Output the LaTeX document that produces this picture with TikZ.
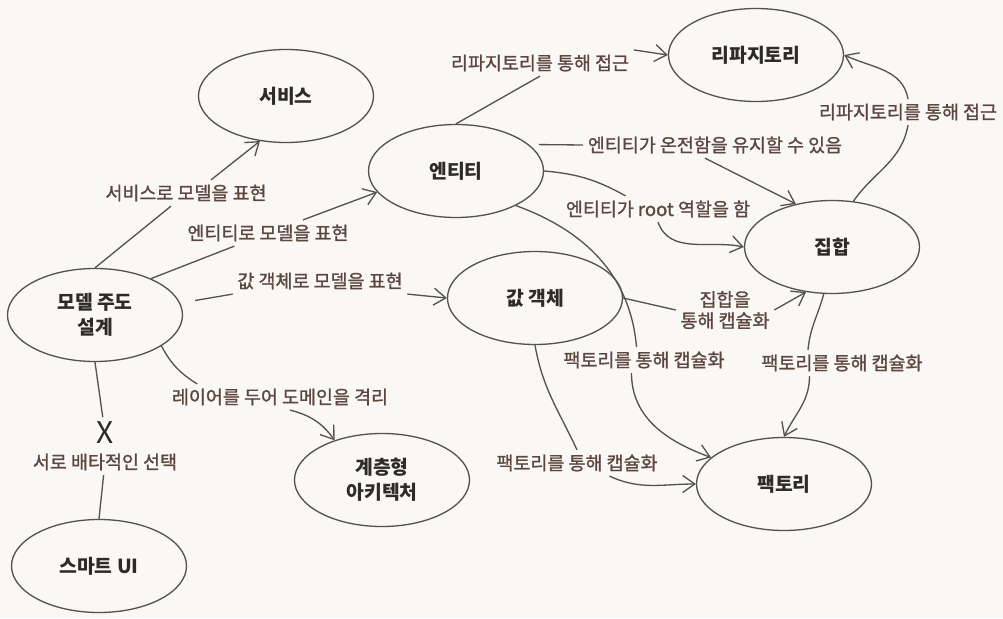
\documentclass[tikz,border=0pt]{standalone}
\usepackage{fontspec}
\setmainfont{Noto Sans CJK KR}
\newfontfamily\relfont[FakeBold=1.2]{Noto Sans CJK KR}
\usepackage{xcolor}
\usetikzlibrary{shapes.geometric, arrows.meta}

\definecolor{paper}{HTML}{FAF8F4}
\definecolor{ink}{HTML}{2E2A28}
\definecolor{rust}{HTML}{5C4640}
\definecolor{wire}{HTML}{5A504A}

\begin{document}
\begin{tikzpicture}[x=0.2mm, y=0.2mm, >={Straight Barb[length=2.4mm,width=3.4mm]},
    concept/.style={ellipse, draw=wire, line width=0.75pt, minimum width=35mm,
        minimum height=18.6mm, inner sep=0pt, align=center, text=ink,
        font=\fontsize{11}{14}\selectfont\bfseries},
    rel/.style={text=rust, inner sep=2.5pt, align=center,
        font=\relfont\fontsize{10.5}{12}\selectfont},
    link/.style={draw=wire, line width=0.75pt}]

    % =================================================================
    % 0. 바탕
    % =================================================================
    \useasboundingbox (0,0) rectangle (1003,618);
    \fill[paper] (0,0) rectangle (1003,618);

    % =================================================================
    % 1. 개념 (타원)
    % =================================================================
    \node[concept] (svc)   at (286,522) {서비스};
    \node[concept] (ent)   at (456,447) {엔티티};
    \node[concept] (repo)  at (756,563) {리파지토리};
    \node[concept] (agg)   at (832,371) {집합};
    \node[concept] (val)   at (535,320) {값 객체};
    \node[concept] (fac)   at (784,134) {팩토리};
    \node[concept] (mdd)   at (95,303)  {모델 주도\\설계};
    \node[concept] (lay)   at (382,138) {계층형\\아키텍처};
    \node[concept] (smart) at (99,52)   {스마트 UI};

    % =================================================================
    % 2. 관계 이름
    % =================================================================
    \node[rel] (lsvc)   at (186,425) {서비스로 모델을 표현};
    \node[rel] (lent)   at (268,385) {엔티티로 모델을 표현};
    \node[rel] (lval)   at (320,337) {값 객체로 모델을 표현};
    \node[rel] (llay)   at (280,221) {레이어를 두어 도메인을 격리};
    \node[rel, text=ink, font=\fontsize{17}{17}\selectfont] (xmark) at (105,185) {X};
    \node[rel] (lexcl)  at (105,156) {서로 배타적인 선택};
    \node[rel] (lrepoa) at (540,555) {리파지토리를 통해 접근};
    \node[rel] (lrepob) at (908,506) {리파지토리를 통해 접근};
    \node[rel] (lwhole) at (715,473) {엔티티가 온전함을 유지할 수 있음};
    \node[rel] (lroot)  at (658,409) {엔티티가 root 역할을 함};
    \node[rel] (lagg)   at (725,308) {집합을\\통해 캡슐화};
    \node[rel] (lfaca)  at (644,258) {팩토리를 통해 캡슐화};
    \node[rel] (lfacb)  at (842,255) {팩토리를 통해 캡슐화};
    \node[rel] (lfacc)  at (577,155) {팩토리를 통해 캡슐화};

    % =================================================================
    % 3. 모델 주도 설계에서 나가는 선
    % =================================================================
    \draw[link] (mdd.north) -- ([xshift=-3mm]lsvc.south);
    \draw[link, ->] ([xshift=5mm]lsvc.north) -- (svc.240);
    \draw[link] (mdd.33) -- (lent);
    \draw[link, ->] (lent) -- (ent.195);
    \draw[link, shorten <=3mm] (mdd.8) -- (lval.south west);
    \draw[link, ->] (lval.south east) -- (val.west);
    \draw[link] (mdd.-25) to[bend right=15] ([xshift=6mm]llay.north west);
    \draw[link, ->] ([xshift=2mm]llay.south) to[bend left=20] (lay.140);
    \draw[link] (mdd.south) -- (xmark);
    \draw[link] (lexcl) -- (smart.north);

    % =================================================================
    % 4. 엔티티, 값 객체, 집합 사이의 선
    % =================================================================
    \draw[link] (ent.north) -- (lrepoa.south);
    \draw[link, ->] (lrepoa.north east) -- (repo.west);
    \draw[link, shorten <=2mm] (ent.20) -- (lwhole.west);
    \draw[link, ->] ([xshift=-2mm]lwhole.south) -- (agg.130);
    \draw[link] (ent.east) to[bend left=12] ([xshift=-6.5mm]lroot.north);
    \draw[link, ->] (lroot.south) to[out=-70, in=168] (agg.west);
    \draw[link] (ent.-30) to[out=-20, in=95] ([xshift=-1.5mm]lfaca.north);
    \draw[link, ->] ([xshift=-2.5mm]lfaca.south) to[out=-90, in=160] (fac.160);
    \draw[link] (val.east) -- (lagg.west);
    \draw[link, ->] (lagg.east) -- (agg.240);
    \draw[link] (val.south) to[out=-80, in=115] (lfacc.north);
    \draw[link, ->] ([xshift=6.5mm]lfacc.south) to[out=-25, in=180] (fac.west);
    \draw[link] (agg.-100) to[out=-105, in=85] ([xshift=-6.8mm]lfacb.north);
    \draw[link, ->] ([xshift=-6.5mm]lfacb.south) to[out=-90, in=65] (fac.north);
    \draw[link] (agg.65) to[out=55, in=-100] (lrepob.south);
    \draw[link, ->] (lrepob.north) to[out=100, in=-25] (repo.east);

\end{tikzpicture}
\end{document}
